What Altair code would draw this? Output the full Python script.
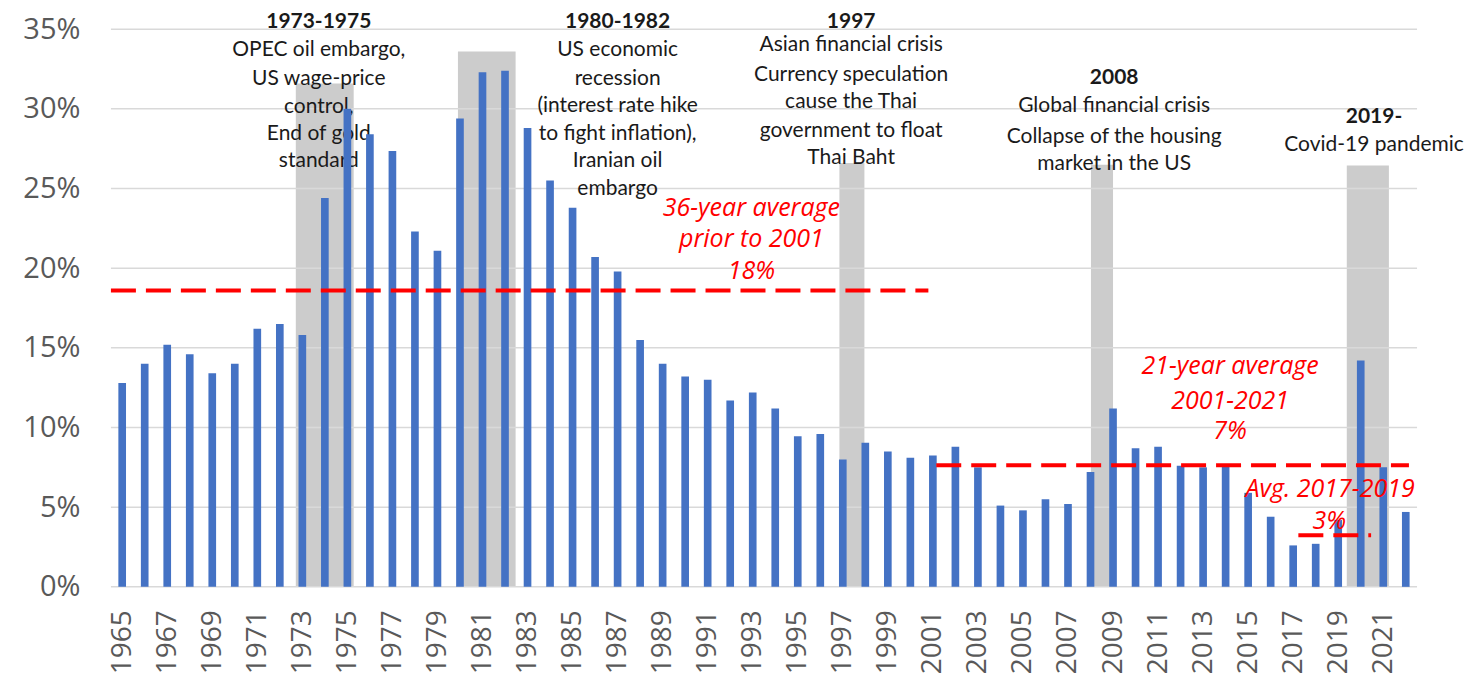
import altair as alt
import pandas as pd

# ---------------- data ----------------
years = list(range(1965, 2023))
rates = [12.8, 14.0, 15.2, 14.6, 13.4, 14.0, 16.2, 16.5, 15.8, 24.4,
         30.0, 28.4, 27.35, 22.3, 21.1, 29.4, 32.3, 32.4, 28.8, 25.5,
         23.8, 20.7, 19.8, 15.5, 14.0, 13.2, 13.0, 11.7, 12.2, 11.2,
         9.45, 9.6, 8.0, 9.05, 8.5, 8.1, 8.25, 8.8, 7.5, 5.1,
         4.8, 5.5, 5.2, 7.2, 11.2, 8.7, 8.8, 7.6, 7.5, 7.7,
         5.9, 4.4, 2.6, 2.7, 4.2, 14.2, 7.5, 4.7]

# crisis shading (start, end in year units; height in %)
band_start = [1972.71, 1979.91, 1996.85, 2008.02, 2019.38]
band_end = [1975.28, 1982.47, 1997.96, 2009.0, 2021.25]
band_top = [31.6, 33.6, 26.6, 26.5, 26.45]

# average lines
avg_start = [1964.5, 2001.15, 2017.23]
avg_end = [2000.8, 2022.14, 2020.46]
avg_value = [18.6, 7.63, 3.24]

y_ticks = [0, 5, 10, 15, 20, 25, 30, 35]
x_ticks = list(range(1965, 2022, 2))

# black annotations
note_text = ["1973-1975", "OPEC oil embargo,", "US wage-price", "control,", "End of gold", "standard",
             "1980-1982", "US economic", "recession", "(interest rate hike", "to fight inflation),",
             "Iranian oil", "embargo",
             "1997", "Asian financial crisis", "Currency speculation", "cause the Thai",
             "government to float", "Thai Baht",
             "2008", "Global financial crisis", "Collapse of the housing", "market in the US",
             "2019-", "Covid-19 pandemic"]
note_x = [1973.73] * 6 + [1987.0] * 7 + [1997.37] * 6 + [2009.05] * 4 + [2020.59] * 2
note_y = [35.61, 33.86, 32.04, 30.28, 28.59, 26.89,
          35.61, 33.86, 32.04, 30.35, 28.59, 26.89, 25.13,
          35.65, 34.17, 32.29, 30.59, 28.83, 27.13,
          32.10, 30.35, 28.40, 26.71,
          29.66, 27.90]
note_bold = [True, False, False, False, False, False,
             True, False, False, False, False, False, False,
             True, False, False, False, False, False,
             True, False, False, False,
             True, False]

# red annotations
red_text = ["36-year average", "prior to 2001", "18%",
            "21-year average", "2001-2021", "7%",
            "Avg. 2017-2019", "3%"]
red_x = [1992.94, 1992.94, 1992.94, 2014.2, 2014.2, 2014.2, 2018.64, 2018.6]
red_y = [23.9, 21.94, 19.93, 13.97, 11.78, 9.89, 6.25, 4.25]

BAR_HALF = 0.17

bars_df = pd.DataFrame({"year": years, "rate": rates})
bars_df["x0"] = bars_df["year"] - BAR_HALF
bars_df["x1"] = bars_df["year"] + BAR_HALF
bands_df = pd.DataFrame({"s": band_start, "e": band_end, "top": band_top})
avg_df = pd.DataFrame({"s": avg_start, "e": avg_end, "v": avg_value})
grid_df = pd.DataFrame({"v": y_ticks})
notes_df = pd.DataFrame({"t": note_text, "x": note_x, "y": note_y, "b": note_bold})
red_df = pd.DataFrame({"t": red_text, "x": red_x, "y": red_y})

xs = alt.Scale(domain=[1964.5, 2022.5], nice=False, zero=False)
ys = alt.Scale(domain=[0, 35], nice=False, zero=True)

x_axis = alt.Axis(values=x_ticks, format="d", labelAngle=270, labelAlign="right",
                  labelBaseline="middle", labelPadding=23, ticks=False, domain=False,
                  grid=False, title=None, labelFont="Open Sans", labelFontSize=28,
                  labelColor="#595959", labelOverlap=False)
y_axis = alt.Axis(values=y_ticks, labelExpr="datum.value + '%'", ticks=False, domain=False,
                  grid=False, title=None, labelPadding=31, labelFont="Open Sans",
                  labelFontSize=29, labelColor="#595959")


def X(field):
    return alt.X(field, type="quantitative", scale=xs, axis=x_axis, title=None)


def Y(field):
    return alt.Y(field, type="quantitative", scale=ys, axis=y_axis, title=None)


bands = alt.Chart(bands_df).mark_rect(color="#cccccc").encode(
    x=X("s"), x2="e", y=Y("top"), y2=alt.datum(0),
)

grid = alt.Chart(grid_df).mark_rule(color="#d9d9d9", strokeWidth=1.5).encode(
    y=Y("v"), x=alt.value(0), x2=alt.value(1307),
)

notes_bold = alt.Chart(notes_df[notes_df["b"]]).mark_text(
    font="Lato", fontSize=21, fontWeight="bold", color="#1a1a1a",
    align="center", baseline="middle", dy=3).encode(
    x=X("x"), y=Y("y"), text="t:N",
)
notes_reg = alt.Chart(notes_df[~notes_df["b"]]).mark_text(
    font="Lato", fontSize=21, color="#1a1a1a",
    align="center", baseline="middle", dy=3).encode(
    x=X("x"), y=Y("y"), text="t:N",
)

bars = alt.Chart(bars_df).mark_rect(color="#4472c4").encode(
    x=X("x0"), x2="x1", y=Y("rate"), y2=alt.datum(0),
)

avg_lines = alt.Chart(avg_df).mark_rule(color="#ff0000", strokeWidth=4,
                                        strokeDash=[25, 10]).encode(
    x=X("s"), x2="e", y=Y("v"),
)

red_notes = alt.Chart(red_df).mark_text(
    font="Open Sans", fontSize=25, fontStyle="italic", color="#ff0000",
    align="center", baseline="middle", dy=2).encode(
    x=X("x"), y=Y("y"), text="t:N",
)

chart = alt.layer(bands, grid, notes_bold, notes_reg, bars, avg_lines, red_notes).properties(
    width=1307, height=558,
    padding={"left": 103, "top": 21, "right": 55, "bottom": 90},
    autosize=alt.AutoSizeParams(type="none"),
).configure_view(stroke=None)

chart.save("out.html", embed_options={"renderer": "svg", "actions": False})
